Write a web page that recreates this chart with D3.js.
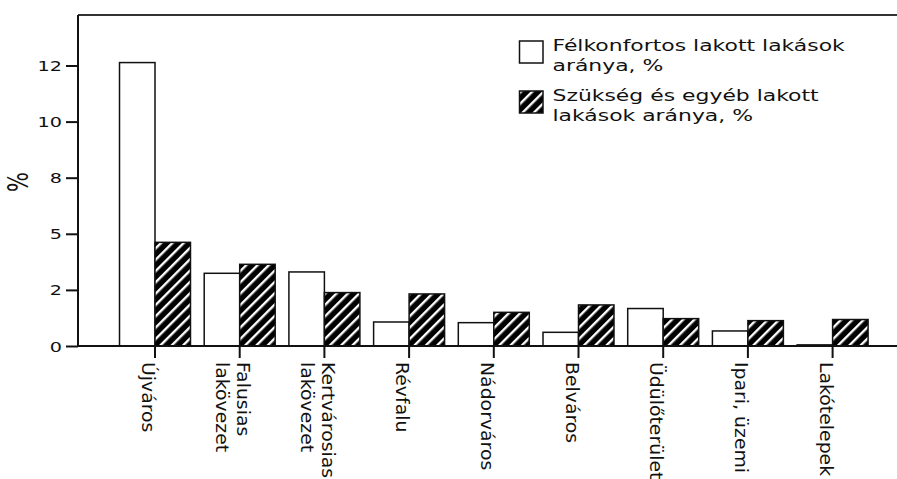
<!DOCTYPE html>
<html>
<head>
<meta charset="utf-8">
<script src="https://cdn.jsdelivr.net/npm/d3@7/dist/d3.min.js"></script>
<style>
  html, body { margin: 0; padding: 0; background: #fff; }
  svg { display: block; }
  text { font-family: "DejaVu Sans", Verdana, sans-serif; fill: #111; }
</style>
</head>
<body>
<svg id="chart" width="897" height="479"></svg>
<script>
// Lakott lakások komfortfokozata városrészenként
const categories = [
  ["Újváros"],
  ["Falusias", "lakövezet"],
  ["Kertvárosias", "lakövezet"],
  ["Révfalu"],
  ["Nádorváros"],
  ["Belváros"],
  ["Üdülőterület"],
  ["Ipari, üzemi"],
  ["Lakótelepek"]
];
const semiComfortShare = [12.63, 3.24, 3.30, 1.07, 1.04, 0.61, 1.67, 0.67, 0.05];
const otherShare       = [4.62, 3.64, 2.38, 2.32, 1.50, 1.83, 1.22, 1.13, 1.18];
const seriesNames = ["Félkonfortos lakott lakások\naránya, %", "Szükség és egyéb lakott\nlakások aránya, %"];
const yTickValues = [0, 2.5, 5, 7.5, 10, 12.5];
const yTickLabels = ["0", "2", "5", "8", "10", "12"];
const yTitle = "%";

const svg = d3.select("#chart");
const W = 897;
const plotLeft = 78, plotTop = 15, base = 346;
const stretch = 1.37; // horizontal text stretch

// hatch pattern: black ground with white "/" stripes
const defs = svg.append("defs");
const pat = defs.append("pattern")
  .attr("id", "hatch")
  .attr("patternUnits", "userSpaceOnUse")
  .attr("width", 8).attr("height", 8)
  .attr("patternTransform", "rotate(45)");
pat.append("rect").attr("width", 8).attr("height", 8).attr("fill", "#000");
pat.append("rect").attr("x", 0).attr("y", 0).attr("width", 2.4).attr("height", 8).attr("fill", "#fff");

const keys = categories.map(c => c.join(" "));
const x0 = d3.scaleBand().domain(keys).range([112.65, 874.95]).paddingInner(0.162).paddingOuter(0.081);
const x1 = d3.scaleBand().domain(["s0", "s1"]).range([0, x0.bandwidth()]);
const y = d3.scaleLinear().domain([0, 14.75]).range([base, plotTop]);

const rows = keys.map((k, i) => ({ key: k, lines: categories[i], s0: semiComfortShare[i], s1: otherShare[i] }));

// bars
const groups = svg.append("g").selectAll("g").data(rows).join("g")
  .attr("transform", d => `translate(${x0(d.key)},0)`);
groups.selectAll("rect")
  .data(d => [{ s: "s0", v: d.s0 }, { s: "s1", v: d.s1 }])
  .join("rect")
  .attr("x", d => x1(d.s))
  .attr("width", x1.bandwidth())
  .attr("y", d => y(d.v))
  .attr("height", d => base - y(d.v))
  .attr("fill", d => d.s === "s0" ? "#fff" : "url(#hatch)")
  .attr("stroke", "#111")
  .attr("stroke-width", 1.5);

// frame: top line and baseline
svg.append("line").attr("x1", plotLeft).attr("x2", W).attr("y1", plotTop).attr("y2", plotTop)
  .attr("stroke", "#333").attr("stroke-width", 2);
svg.append("line").attr("x1", plotLeft).attr("x2", W).attr("y1", base).attr("y2", base)
  .attr("stroke", "#111").attr("stroke-width", 2);

// y axis
const yAxis = svg.append("g").attr("transform", `translate(${plotLeft},0)`)
  .call(d3.axisLeft(y).tickValues(yTickValues).tickSize(12)
    .tickFormat((d, i) => yTickLabels[i]));
yAxis.select(".domain").attr("stroke", "#111").attr("stroke-width", 2)
  .attr("d", `M0,${plotTop}V${base}`);
yAxis.selectAll(".tick line").attr("stroke", "#111").attr("stroke-width", 2);
yAxis.selectAll(".tick text")
  .attr("x", 0).attr("dy", "0.36em")
  .attr("transform", `translate(-16,0) scale(${stretch},1)`)
  .style("font-family", "DejaVu Sans").style("font-size", "14px").attr("fill", "#111");

// y title
svg.append("text")
  .attr("transform", `translate(28,182) scale(1.35,1) rotate(-90)`)
  .attr("text-anchor", "middle")
  .style("font-size", "21px")
  .text(yTitle);

// x axis ticks and labels
const xt = svg.append("g").selectAll("g").data(rows).join("g")
  .attr("transform", d => `translate(${x0(d.key) + x0.bandwidth() / 2},${base})`);
xt.append("line").attr("y1", 0).attr("y2", 12).attr("stroke", "#111").attr("stroke-width", 2);
const lineGap = 21.5;
xt.each(function (d) {
  const g = d3.select(this);
  const n = d.lines.length;
  d.lines.forEach((t, i) => {
    const bx = -13 + (n - 1) * lineGap / 2 - i * lineGap;
    g.append("text")
      .attr("transform", `translate(${bx},16) rotate(90) scale(1.11,1)`)
      .style("font-size", "17px")
      .text(t);
  });
});

// legend
const legend = svg.append("g");
const items = [
  { fill: "#fff", y: 41, lines: seriesNames[0].split("\n") },
  { fill: "url(#hatch)", y: 91, lines: seriesNames[1].split("\n") }
];
items.forEach(it => {
  legend.append("rect").attr("x", 519.5).attr("y", it.y).attr("width", 23.5).attr("height", 22)
    .attr("fill", it.fill).attr("stroke", "#111").attr("stroke-width", 1.5);
  it.lines.forEach((t, i) => {
    legend.append("text")
      .attr("transform", `translate(552.5,${it.y + 10 + i * 20}) scale(${stretch},1)`)
      .style("font-size", "16px")
      .text(t);
  });
});
</script>
</body>
</html>
